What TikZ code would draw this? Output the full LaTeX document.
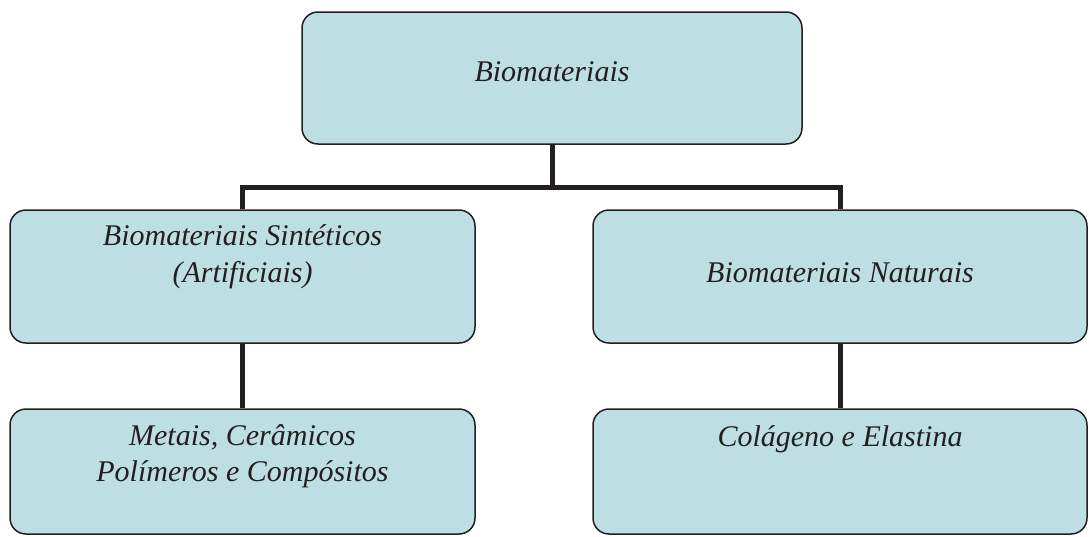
\documentclass[tikz,border=0pt]{standalone}
\usepackage{fontspec}
\setmainfont{Liberation Serif}[ItalicFont={Liberation Serif Italic}]
\definecolor{boxfill}{HTML}{BDDFE3}
\definecolor{ink}{HTML}{231F20}
\begin{document}
\begin{tikzpicture}[x=1pt,y=-1pt,
  box/.style={draw=ink,line width=1.5pt,fill=boxfill,rounded corners=16pt,inner sep=0pt},
  lbl/.style={anchor=base,inner sep=0pt,text=ink,font=\fontsize{30}{37}\selectfont\itshape},
  link/.style={draw=ink,line width=5pt}]
\useasboundingbox (0,0) rectangle (1089,536);
\node[box,minimum width=500pt,minimum height=132pt] (top) at (552,78) {};
\node[box,minimum width=465pt,minimum height=133pt] (syn) at (242.5,276.5) {};
\node[box,minimum width=494pt,minimum height=133pt] (nat) at (840,276.5) {};
\node[box,minimum width=465pt,minimum height=125pt] (met) at (242.5,471.5) {};
\node[box,minimum width=494pt,minimum height=125pt] (col) at (840,471.5) {};
\node[lbl] (t1) at (552,81) {Biomateriais};
\node[lbl] (t2) at (242.5,245) {Biomateriais Sintéticos};
\node[lbl] (t3) at (242.5,282) {(Artificiais)};
\node[lbl] (t4) at (840,282) {Biomateriais Naturais};
\node[lbl] (t5) at (242.5,445) {Metais, Cerâmicos};
\node[lbl] (t6) at (242.5,481) {Polímeros e Compósitos};
\node[lbl] (t7) at (840,446) {Colágeno e Elastina};
\coordinate (bar) at (552,187);
\draw[link] (top.south) -- (bar);
\draw[link] (syn.north) |- (bar) -| (nat.north);
\draw[link] (syn.south) -- (met.north);
\draw[link] (nat.south) -- (col.north);
\end{tikzpicture}
\end{document}
